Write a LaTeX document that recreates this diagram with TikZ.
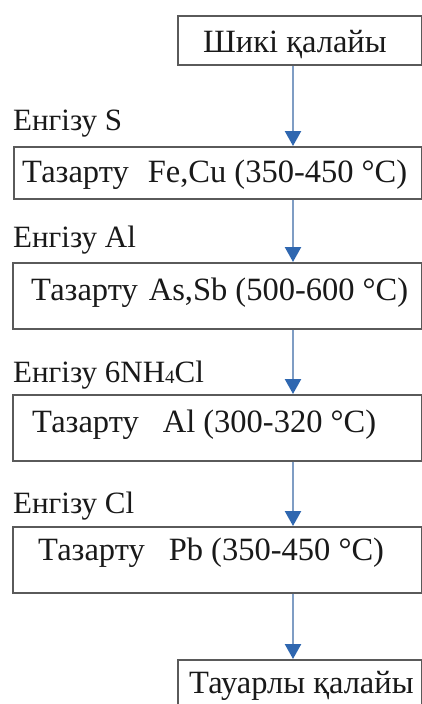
\documentclass[tikz,border=0pt]{standalone}
\usepackage{fontspec}
\setmainfont{Liberation Serif}
\usetikzlibrary{arrows.meta}
\definecolor{boxline}{HTML}{5A5A5A}
\definecolor{arrline}{HTML}{7F9DC4}
\definecolor{arrhead}{HTML}{2F67B0}
\tikzset{
  box/.style={draw=boxline, line width=1.6pt, fill=white, inner sep=0pt},
  boxtext/.style={anchor=base west, inner sep=0pt, font=\fontsize{32.5}{38}\selectfont, text=black!90},
  lbl/.style={anchor=base west, inner sep=0pt, font=\fontsize{31}{36}\selectfont, text=black!90},
  flow/.style={draw=arrline, line width=2.4pt, -{Triangle[width=16pt,length=15pt,color=arrhead]}, shorten >=0pt}
}
\begin{document}
\begin{tikzpicture}[x=1pt,y=-1pt]
\useasboundingbox (0,0) rectangle (422,704);
\fill[white] (0,0) rectangle (422,704);
% boxes
\node[box, minimum width=244pt, minimum height=49pt, anchor=north west] (b1) at (177,15) {};
\node[box, minimum width=408pt, minimum height=52pt, anchor=north west] (b2) at (13,146) {};
\node[box, minimum width=409pt, minimum height=66pt, anchor=north west] (b3) at (12,262) {};
\node[box, minimum width=409pt, minimum height=66pt, anchor=north west] (b4) at (12,394) {};
\node[box, minimum width=409pt, minimum height=66pt, anchor=north west] (b5) at (12,526) {};
\node[box, minimum width=244pt, minimum height=60pt, anchor=north west] (b6) at (177,659) {};
% box texts
\node[boxtext] (t1) at (203,52) {Шикі қалайы};
\node[boxtext] (t2) at (22,182) {Тазарту\hspace{19pt}Fe,Cu (350-450 °C)};
\node[boxtext] (t3) at (31,300) {Тазарту\hspace{11pt}As,Sb (500-600 °C)};
\node[boxtext] (t4) at (32,432) {Тазарту\hspace{24pt}Al (300-320 °C)};
\node[boxtext] (t5) at (38,560) {Тазарту\hspace{24pt}Pb (350-450 °C)};
\node[boxtext] (t6) at (189,693) {Тауарлы қалайы};
% labels
\node[lbl] (l1) at (13,130) {Енгізу S};
\node[lbl] (l2) at (13,247) {Енгізу Al};
\node[lbl] (l3) at (13,382) {Енгізу 6NH\raisebox{-1pt}{\fontsize{19}{22}\selectfont 4}Cl};
\node[lbl] (l4) at (13,513) {Енгізу Cl};
% arrows
\coordinate (ax) at (293,0);
\draw[flow] (b1.south -| ax) -- (b2.north -| ax);
\draw[flow] (b2.south -| ax) -- (b3.north -| ax);
\draw[flow] (b3.south -| ax) -- (b4.north -| ax);
\draw[flow] (b4.south -| ax) -- (b5.north -| ax);
\draw[flow] (b5.south -| ax) -- (b6.north -| ax);
\end{tikzpicture}
\end{document}
